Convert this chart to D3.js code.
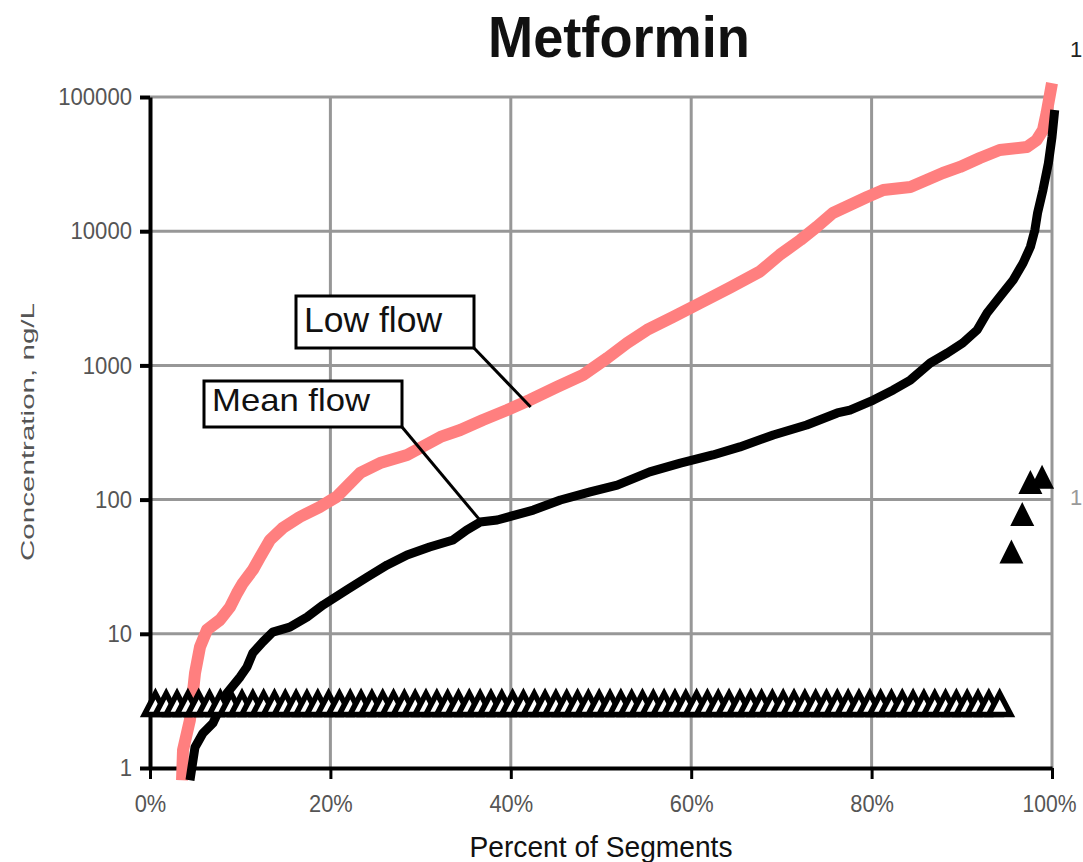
<!DOCTYPE html>
<html><head><meta charset="utf-8">
<script src="https://cdn.jsdelivr.net/npm/d3@7"></script>
<style>html,body{margin:0;padding:0;background:#fff;}svg{display:block;}</style>
</head><body>
<svg id="c" width="1083" height="862"></svg>
<script>
// ---------- data ----------
const chartTitle = "Metformin";
const xTitle = "Percent of Segments";
const yTitle = "Concentration, ng/L";
const xTicks = [0, 20, 40, 60, 80, 100];
const xTickLabels = ["0%", "20%", "40%", "60%", "80%", "100%"];
const yTicks = [1, 10, 100, 1000, 10000, 100000];
const yTickLabels = ["1", "10", "100", "1000", "10000", "100000"];

const lowPct = [3.55,3.66,4.43,4.99,5.54,6.32,7.76,8.87,9.65,10.3,11.4,12.2,13.3,14.7,16.6,18.8,20.7,22.2,23.3,25.5,28.5,32.2,34.4,36.9,39.6,42.1,45.1,48.0,50.7,52.9,55.1,58.0,61.0,64.3,67.6,69.8,72.1,73.9,75.7,77.6,79.5,81.3,84.3,86.1,87.9,89.8,92.0,94.2,97.2,98.3,99.0,99.4,99.8,100];
const lowVal = [0.81,1.36,2.28,5.1,7.97,10.7,12.7,15.8,20.1,23.9,29.9,37.3,50,61.4,74.2,88,105,133,158,187,215,293,330,392,465,552,690,848,1136,1469,1836,2295,2917,3800,5000,6650,8600,10750,13680,15680,17990,20290,21350,24080,27160,30110,35130,40300,42340,47800,56800,76000,107000,127000];

const meanPct = [4.43,4.99,5.88,6.98,8.54,9.98,10.75,11.4,12.5,13.6,15.5,17.4,19.2,21.8,24.1,26.3,28.5,31.0,33.6,35.1,36.6,38.5,42.5,45.5,48.8,51.8,55.4,58.8,62.4,65.4,69.1,72.8,76.2,77.6,80.2,82.4,84.3,86.5,88.4,90.1,91.7,92.8,94.2,95.7,96.8,97.6,98.1,98.4,99.0,99.6,100,100.3];
const meanVal = [0.81,1.43,1.82,2.16,3.62,4.76,5.66,7.19,8.69,10.3,11.2,13.3,16.4,21.2,26.5,32.6,38.7,44.3,50,59.3,68,70.5,83.6,99.3,114,128,161,187,215,247,303,360,442,465,552,656,778,1042,1237,1469,1836,2456,3235,4328,5797,7625,10200,13680,20290,32200,50300,80000];

// detection-limit row (open triangles)
const detectPct = [0.6,1.8,3.0,4.2,5.4,6.6,7.8,9.0,10.2,11.4,12.6,13.8,15.0,16.2,17.4,18.6,19.8,21.0,22.2,23.4,24.6,25.8,27.0,28.2,29.4,30.6,31.8,33.0,34.2,35.4,36.6,37.8,39.0,40.2,41.4,42.6,43.8,45.0,46.2,47.4,48.6,49.8,51.0,52.2,53.4,54.6,55.8,57.0,58.2,59.4,60.6,61.8,63.0,64.2,65.4,66.6,67.8,69.0,70.2,71.4,72.6,73.8,75.0,76.2,77.4,78.6,79.8,81.0,82.2,83.4,84.6,85.8,87.0,88.2,89.4,90.6,91.8,93.0,94.2];
const detectVal = 3.0;

// measured points (filled triangles)
const obsPct = [95.5, 96.7, 97.6, 98.9];
const obsVal = [41, 78, 135, 148];

// label annotations: [pct, value] targets
const lowLabel = {text: "Low flow", target: [42.2, 490]};
const meanLabel = {text: "Mean flow", target: [36.6, 70]};

// ---------- layout ----------
const svg = d3.select("#c");
const x = d3.scaleLinear().domain([0, 100]).range([150, 1052]);
const y = d3.scaleLog().domain([1, 100000]).range([768, 97]);
const font = "'Liberation Sans', Arial, Helvetica, sans-serif";

function fitText(sel, len) {
  sel.each(function(){ this.setAttribute("textLength", len); this.setAttribute("lengthAdjust","spacingAndGlyphs"); });
}

// gridlines
const grid = svg.append("g");
grid.selectAll("line.h").data(yTicks.filter(d => d > 1)).join("line")
  .attr("x1", x(0)).attr("x2", x(100)).attr("y1", d => y(d)).attr("y2", d => y(d))
  .attr("stroke", "#979797").attr("stroke-width", 3);
grid.selectAll("line.v").data(xTicks.filter(d => d > 0)).join("line")
  .attr("y1", y(1)).attr("y2", y(100000)).attr("x1", d => x(d)).attr("x2", d => x(d))
  .attr("stroke", "#979797").attr("stroke-width", 3);

// axes
const yAxis = svg.append("g").attr("transform", `translate(${x(0)},0)`)
  .call(d3.axisLeft(y).tickValues(yTicks).tickSize(10).tickSizeOuter(0).tickPadding(8)
    .tickFormat((d, i) => yTickLabels[i]));
yAxis.select(".domain").attr("stroke", "#000").attr("stroke-width", 4);
yAxis.selectAll(".tick line").attr("stroke", "#000").attr("stroke-width", 4);
yAxis.selectAll(".tick text").attr("font-family", font).attr("font-size", 24).attr("fill", "#555")
  .each(function(d, i){ fitText(d3.select(this), yTickLabels[i].length * 12.3); });

const xAxis = svg.append("g").attr("transform", `translate(0,${y(1)})`)
  .call(d3.axisBottom(x).tickValues(xTicks).tickSize(11).tickSizeOuter(0)
    .tickFormat((d, i) => xTickLabels[i]));
xAxis.select(".domain").attr("stroke", "#000").attr("stroke-width", 4);
xAxis.selectAll(".tick line").attr("stroke", "#000").attr("stroke-width", 3);
xAxis.selectAll(".tick text").attr("font-family", font).attr("font-size", 24).attr("fill", "#555")
  .attr("dy", null).attr("y", 44)
  .each(function(d){
    const L = this.getComputedTextLength();
    if (d === 100) { fitText(d3.select(this), 54); d3.select(this).attr("x", -3); }
    else fitText(d3.select(this), L * 0.91);
  });

// titles
svg.append("text").attr("x", 619).attr("y", 57).attr("text-anchor", "middle")
  .attr("font-family", font).attr("font-weight", "bold").attr("font-size", 58).attr("fill", "#111")
  .text(chartTitle).call(fitText, 262);
svg.append("text").attr("x", 601).attr("y", 857).attr("text-anchor", "middle")
  .attr("font-family", font).attr("font-size", 29).attr("fill", "#111")
  .text(xTitle).call(fitText, 263);
svg.append("text").attr("transform", "translate(27,432) rotate(-90)").attr("text-anchor", "middle")
  .attr("dominant-baseline", "central")
  .attr("font-family", font).attr("font-size", 19).attr("fill", "#555")
  .text(yTitle).call(fitText, 258);

// clipped secondary labels at right edge
svg.append("text").attr("x", 1070).attr("y", 57).attr("font-family", font).attr("font-size", 22).attr("fill", "#222").text("1");
svg.append("text").attr("x", 1070).attr("y", 505).attr("font-family", font).attr("font-size", 22).attr("fill", "#999").text("1");

// lines
const line = d3.line().x(d => x(d[0])).y(d => y(d[1]));
svg.append("path").datum(lowPct.map((p, i) => [p, lowVal[i]]))
  .attr("d", line).attr("fill", "none").attr("stroke", "#FF7F7F").attr("stroke-width", 12)
  .attr("stroke-linejoin", "round");
svg.append("path").datum(meanPct.map((p, i) => [p, meanVal[i]]))
  .attr("d", line).attr("fill", "none").attr("stroke", "#000").attr("stroke-width", 9)
  .attr("stroke-linejoin", "round");

// detection row triangles
const tri = (w, h) => `M0,${-h/2}L${w/2},${h/2}L${-w/2},${h/2}Z`;
svg.append("g").selectAll("path").data(detectPct).join("path")
  .attr("transform", d => `translate(${x(d)},${y(detectVal)})`)
  .attr("d", tri(22, 21)).attr("fill", "#fff").attr("stroke", "#000").attr("stroke-width", 5.5)
  .attr("stroke-linejoin", "miter");

// observed filled triangles
svg.append("g").selectAll("path").data(obsPct).join("path")
  .attr("transform", (d, i) => `translate(${x(d)},${y(obsVal[i])})`)
  .attr("d", tri(24, 24)).attr("fill", "#000");

// annotations
function annot(lbl, bx, by, bw, bh, fs, tx, tby, tlen, cornerX, cornerY) {
  svg.append("line").attr("x1", cornerX).attr("y1", cornerY)
    .attr("x2", x(lbl.target[0])).attr("y2", y(lbl.target[1]))
    .attr("stroke", "#000").attr("stroke-width", 3);
  svg.append("rect").attr("x", bx).attr("y", by).attr("width", bw).attr("height", bh)
    .attr("fill", "#fff").attr("stroke", "#000").attr("stroke-width", 3);
  svg.append("text").attr("x", tx).attr("y", tby).attr("font-family", font).attr("font-size", fs)
    .attr("fill", "#111").text(lbl.text).call(fitText, tlen);
}
annot(lowLabel, 296, 296, 178, 52, 35, 304, 332, 138, 473, 347);
annot(meanLabel, 204, 381, 198, 46, 32, 212, 411, 158, 402, 427);
</script>
</body></html>
